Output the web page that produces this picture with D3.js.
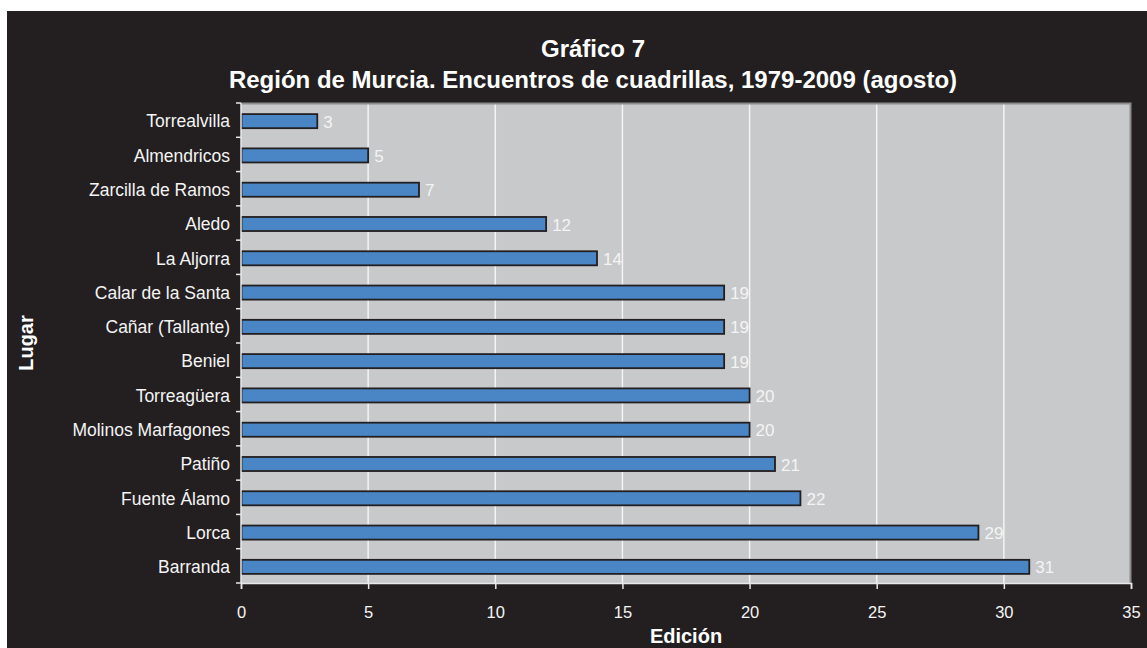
<!DOCTYPE html>
<html>
<head>
<meta charset="utf-8">
<script src="https://cdn.jsdelivr.net/npm/d3@7"></script>
<style>
  body { margin: 0; background: #ffffff; }
  text { font-family: "Liberation Sans", Arial, sans-serif; }
</style>
</head>
<body>
<div id="chart"></div>
<script>
//Chart data
var lugares = ["Torrealvilla", "Almendricos", "Zarcilla de Ramos", "Aledo", "La Aljorra",
    "Calar de la Santa", "Cañar (Tallante)", "Beniel", "Torreagüera", "Molinos Marfagones",
    "Patiño", "Fuente Álamo", "Lorca", "Barranda"];
var ediciones = [3, 5, 7, 12, 14, 19, 19, 19, 20, 20, 21, 22, 29, 31];
var xTicks = [0, 5, 10, 15, 20, 25, 30, 35];
var titulo = ["Gráfico 7", "Región de Murcia. Encuentros de cuadrillas, 1979-2009 (agosto)"];

//SVG dimensions
var svgWidth = 1147;
var svgHeight = 648;

var margin = {
    top: 103,
    right: 16,
    bottom: 65,
    left: 241
};

var width = svgWidth - margin.left - margin.right;
var height = svgHeight - margin.top - margin.bottom;

var svg = d3.select("#chart")
    .append("svg")
    .attr("width", svgWidth)
    .attr("height", svgHeight);

//Dark background with white edge at top and left
svg.append("rect")
    .attr("x", 7)
    .attr("y", 11)
    .attr("width", svgWidth - 7)
    .attr("height", svgHeight - 11)
    .attr("fill", "#231f20");

var chartGroup = svg.append("g")
    .attr("transform", `translate(${margin.left}, ${margin.top})`);

//Scales
var xLinearScale = d3.scaleLinear()
    .domain([0, 35])
    .range([0, width]);

var yBandScale = d3.scaleBand()
    .domain(lugares)
    .range([0, height])
    .paddingInner(0.59)
    .paddingOuter(0.295);

//Plot area
chartGroup.append("rect")
    .attr("width", width)
    .attr("height", height)
    .attr("fill", "#c8c9cb");

//Gridlines
chartGroup.selectAll(".grid")
    .data(xTicks.slice(1, -1))
    .enter()
    .append("line")
    .attr("x1", d => xLinearScale(d))
    .attr("x2", d => xLinearScale(d))
    .attr("y1", 0)
    .attr("y2", height)
    .attr("stroke", "#f4f4f4")
    .attr("stroke-width", 1.5);

//Plot border (top and right)
chartGroup.append("path")
    .attr("d", `M0,0.5H${width - 0.5}V${height}`)
    .attr("fill", "none")
    .attr("stroke", "#8c8c8c")
    .attr("stroke-width", 2);

//Bars
chartGroup.selectAll(".bar")
    .data(ediciones)
    .enter()
    .append("rect")
    .attr("x", 0.5)
    .attr("y", (d, i) => yBandScale(lugares[i]) + 1)
    .attr("width", d => xLinearScale(d) - 0.5)
    .attr("height", yBandScale.bandwidth())
    .attr("fill", "#4a86c6")
    .attr("stroke", "#231f20")
    .attr("stroke-width", 1.8);

//Value labels
chartGroup.selectAll(".valor")
    .data(ediciones)
    .enter()
    .append("text")
    .text(d => d)
    .attr("x", d => xLinearScale(d) + 6)
    .attr("y", (d, i) => yBandScale(lugares[i]) + 1.5 + yBandScale.bandwidth() / 2)
    .attr("dy", "0.36em")
    .attr("fill", "#f4f4f4")
    .attr("font-size", "17px");

//X axis
var bottomAxis = d3.axisBottom(xLinearScale)
    .tickValues(xTicks)
    .tickSize(6)
    .tickPadding(17);

var xAxis = chartGroup.append("g")
    .attr("transform", `translate(0, ${height})`)
    .call(bottomAxis);

xAxis.select(".domain").attr("stroke", "#e8e8e8").attr("stroke-width", 1.5);
xAxis.selectAll(".tick line").attr("stroke", "#e8e8e8").attr("stroke-width", 1.5);
xAxis.selectAll("text")
    .attr("fill", "#f4f4f4")
    .attr("font-size", "16.5px");

//Y axis: category labels and boundary ticks
var boundaries = d3.range(lugares.length + 1).map(i => i * height / lugares.length);

chartGroup.append("line")
    .attr("x1", 0).attr("x2", 0)
    .attr("y1", 0).attr("y2", height)
    .attr("stroke", "#e8e8e8")
    .attr("stroke-width", 1.5);

chartGroup.selectAll(".ytick")
    .data(boundaries)
    .enter()
    .append("line")
    .attr("x1", -5).attr("x2", 0)
    .attr("y1", d => d).attr("y2", d => d)
    .attr("stroke", "#e8e8e8")
    .attr("stroke-width", 1.5);

chartGroup.selectAll(".lugar")
    .data(lugares)
    .enter()
    .append("text")
    .text(d => d)
    .attr("x", -11)
    .attr("y", d => yBandScale(d) + 1 + yBandScale.bandwidth() / 2)
    .attr("dy", "0.36em")
    .attr("text-anchor", "end")
    .attr("fill", "#f4f4f4")
    .attr("font-size", "17.5px");

//Title
svg.selectAll(".titulo")
    .data(titulo)
    .enter()
    .append("text")
    .text(d => d)
    .attr("x", 593)
    .attr("y", (d, i) => 57 + i * 31)
    .attr("text-anchor", "middle")
    .attr("fill", "#ffffff")
    .attr("font-weight", "bold")
    .attr("font-size", "24px");

//Axis titles
svg.append("text")
    .text("Edición")
    .attr("x", margin.left + width / 2)
    .attr("y", 643)
    .attr("text-anchor", "middle")
    .attr("fill", "#ffffff")
    .attr("font-weight", "bold")
    .attr("font-size", "20px");

svg.append("text")
    .text("Lugar")
    .attr("transform", `translate(33, ${margin.top + height / 2}) rotate(-90)`)
    .attr("text-anchor", "middle")
    .attr("fill", "#ffffff")
    .attr("font-weight", "bold")
    .attr("font-size", "20px");
</script>
</body>
</html>
